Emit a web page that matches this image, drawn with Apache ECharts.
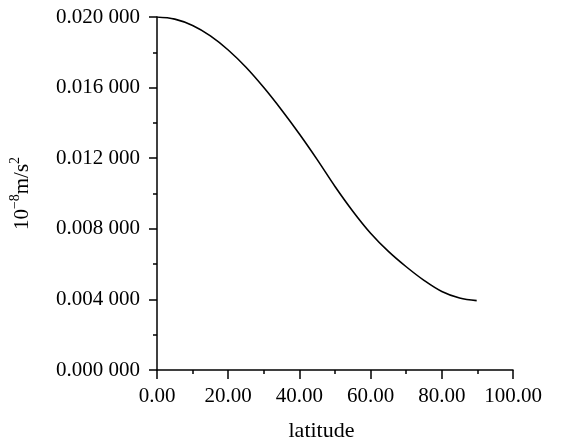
<!DOCTYPE html>
<html>
<head>
<meta charset="utf-8">
<script src="https://cdn.jsdelivr.net/npm/echarts@6/dist/echarts.min.js"></script>
<style>
html,body{margin:0;padding:0;background:#fff;}
#chart{width:568px;height:447px;}
</style>
</head>
<body>
<div id="chart"></div>
<script>
// latitude (degrees)
var latitude = [0, 5, 10, 15, 20, 25, 30, 35, 40, 45, 50, 55, 60, 65, 70, 75, 80, 85, 89.8];
// value (10^-8 m/s^2)
var values = [0.02000, 0.01988, 0.01952, 0.01893, 0.01813, 0.01715, 0.01600, 0.01473, 0.01337, 0.01192,
              0.01040, 0.00900, 0.00775, 0.00672, 0.00585, 0.00508, 0.00445, 0.00408, 0.00393];
var xName = 'latitude';
var yTicks = {min: 0, max: 0.02, interval: 0.004};
var xTicks = {min: 0, max: 100, interval: 20};

var font = '"Liberation Serif", "Times New Roman", serif';
var chart = echarts.init(document.getElementById('chart'));
var data = latitude.map(function (x, i) { return [x, values[i]]; });

chart.setOption({
  animation: false,
  backgroundColor: '#fff',
  grid: {left: 156, right: 55, top: 17, bottom: 75, containLabel: false},
  xAxis: {
    type: 'value',
    min: xTicks.min, max: xTicks.max, interval: xTicks.interval,
    name: xName,
    nameLocation: 'middle',
    nameGap: 50,
    nameTextStyle: {fontFamily: font, fontSize: 22, color: '#000', padding: [0, 27, 0, 0]},
    axisLine: {show: true, onZero: false, lineStyle: {color: '#000', width: 1.5}},
    axisTick: {show: true, inside: false, length: 9, lineStyle: {color: '#000', width: 1.5}},
    minorTick: {show: true, splitNumber: 2, length: 4, lineStyle: {color: '#000', width: 1.5}},
    axisLabel: {
      margin: 16, fontFamily: font, fontSize: 21, color: '#000',
      formatter: function (v) { return v.toFixed(2); }
    },
    splitLine: {show: false}
  },
  yAxis: {
    type: 'value',
    min: yTicks.min, max: yTicks.max, interval: yTicks.interval,
    name: '{a|10}{s|−8}{a|m/s}{s|2}',
    nameLocation: 'middle',
    nameGap: 124,
    nameTextStyle: {
      fontFamily: font, fontSize: 21, color: '#000',
      rich: {
        a: {fontFamily: font, fontSize: 21, color: '#000', verticalAlign: 'bottom', lineHeight: 25},
        s: {fontFamily: font, fontSize: 14, color: '#000', verticalAlign: 'top', lineHeight: 25}
      }
    },
    axisLine: {show: true, onZero: false, lineStyle: {color: '#000', width: 1.5}},
    axisTick: {show: true, inside: false, length: 8, lineStyle: {color: '#000', width: 1.5}},
    minorTick: {show: true, splitNumber: 2, length: 4, lineStyle: {color: '#000', width: 1.5}},
    axisLabel: {
      margin: 17, fontFamily: font, fontSize: 21, color: '#000',
      formatter: function (v) {
        var s = v.toFixed(6);
        return s.slice(0, 5) + ' ' + s.slice(5);
      }
    },
    splitLine: {show: false}
  },
  series: [{
    type: 'line',
    data: data,
    smooth: 0.35,
    showSymbol: false,
    lineStyle: {color: '#000', width: 1.6},
    itemStyle: {color: '#000'}
  }]
});
</script>
</body>
</html>
